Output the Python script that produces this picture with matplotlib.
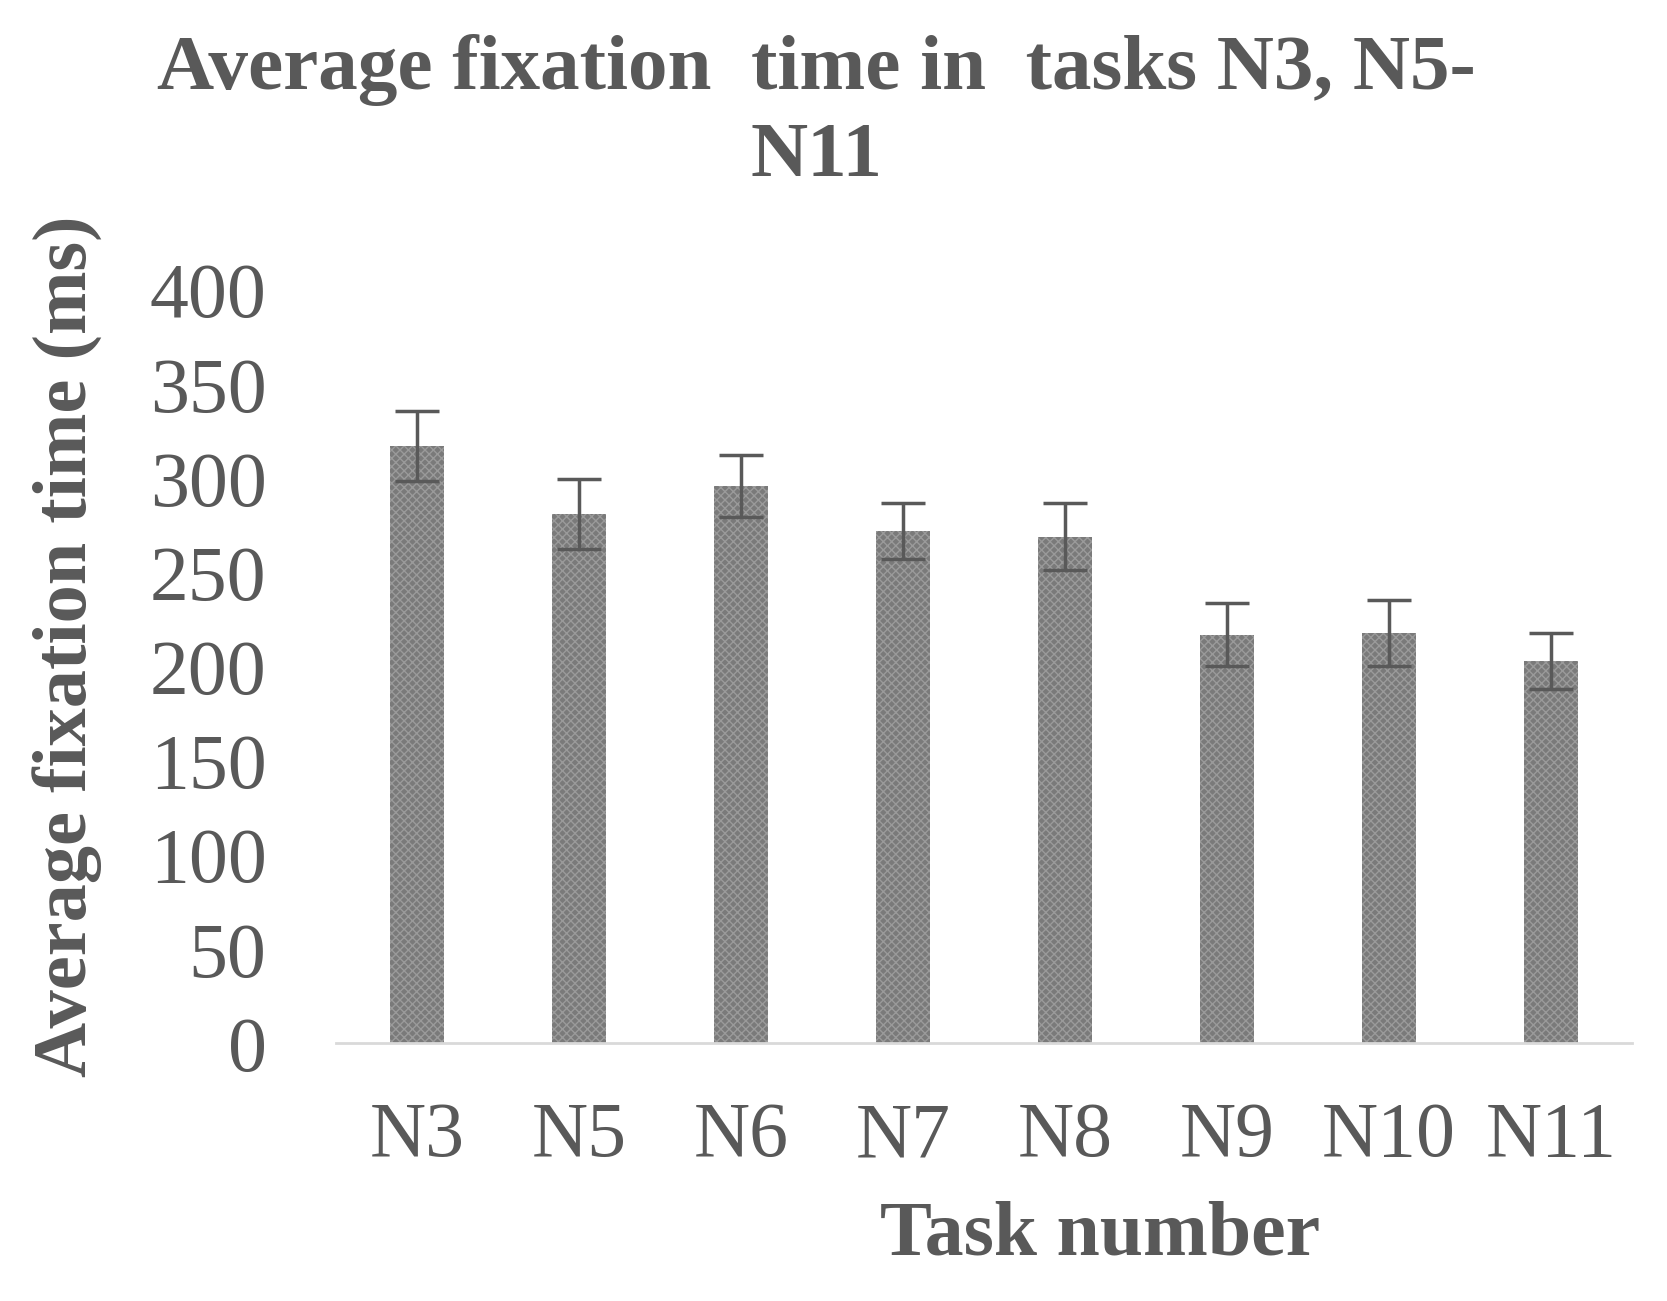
import matplotlib
matplotlib.use("Agg")
import matplotlib.pyplot as plt
import numpy as np

tasks = ["N3", "N5", "N6", "N7", "N8", "N9", "N10", "N11"]
mean_ms = [317, 281, 296, 272, 269, 217, 218, 203]
err_ms = [18.6, 18.6, 16.5, 15, 17.7, 16.6, 17.7, 15]
yticks = [0, 50, 100, 150, 200, 250, 300, 350, 400]

plt.rcParams['hatch.color'] = '#9a9a9a'
plt.rcParams['hatch.linewidth'] = 1.0

fig = plt.figure(figsize=(16.67, 13.01), dpi=100)
ax = fig.add_axes([0.2016, 0.198, 0.7774, 0.579])

x = np.arange(len(tasks))
ax.bar(x, mean_ms, width=0.33, color='#7a7a7a', hatch='xxxx', edgecolor='#9a9a9a', linewidth=0, zorder=2)
ax.errorbar(x, mean_ms, yerr=err_ms, fmt='none', ecolor='#595959', elinewidth=2.5,
            capsize=15.5, capthick=2.5, zorder=3)

ax.set_xlim(-0.5, len(tasks) - 0.5)
ax.set_ylim(0, 400)
ax.set_yticks(yticks)
ax.set_xticks(x)
ax.set_xticklabels(tasks)

serif = ['Liberation Serif', 'DejaVu Serif']
for lab in ax.get_xticklabels() + ax.get_yticklabels():
    lab.set_family(serif)
    lab.set_fontsize(56)
    lab.set_color('#595959')

ax.tick_params(axis='both', length=0)
ax.tick_params(axis='y', pad=50)
ax.tick_params(axis='x', pad=42)
for s in ['top', 'right', 'left']:
    ax.spines[s].set_visible(False)
ax.spines['bottom'].set_color('#d9d9d9')
ax.spines['bottom'].set_linewidth(2)

fig.text(0.49, 0.913, "Average fixation  time in  tasks N3, N5-\nN11", ha='center', va='center',
         family=serif, fontweight='bold', fontsize=57, color='#595959', linespacing=1.3)
fig.text(0.041, 0.503, "Average fixation time (ms)", rotation=90, ha='center', va='center',
         family=serif, fontweight='bold', fontsize=55, color='#595959')
fig.text(0.66, 0.05, "Task number", ha='center', va='center',
         family=serif, fontweight='bold', fontsize=56, color='#595959')

fig.savefig("out.png", dpi=100, facecolor='white')
